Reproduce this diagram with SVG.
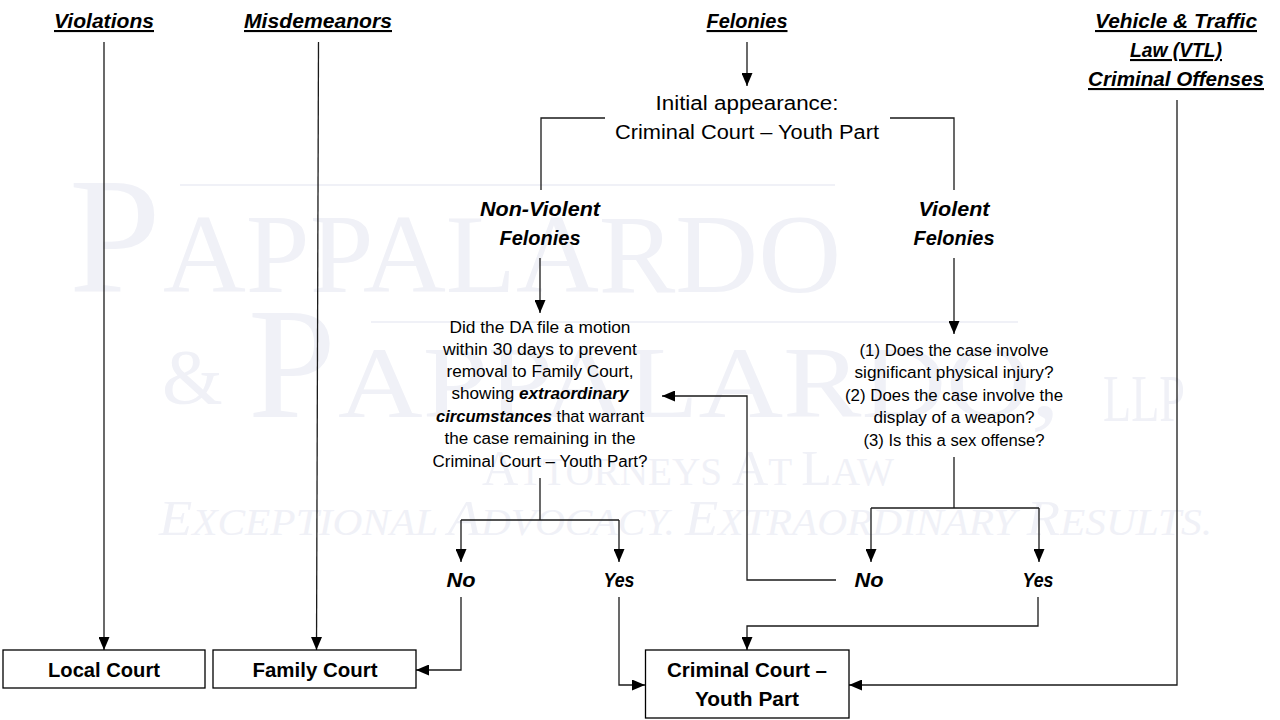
<svg xmlns="http://www.w3.org/2000/svg" width="1280" height="720" viewBox="0 0 1280 720">
<defs>
<marker id="arr" markerWidth="13" markerHeight="11" refX="13" refY="5.5" orient="auto" markerUnits="userSpaceOnUse"><path d="M0,0 L13,5.5 L0,11 z" fill="#000"/></marker>
<style>
.wm{font-family:"Liberation Serif","Times New Roman",serif;fill:#f0f1f7}
.hd{font-family:"Liberation Sans",Arial,sans-serif;font-weight:bold;font-style:italic;font-size:21px;fill:#000;text-anchor:middle}
.ul{text-decoration:underline}
.tx{font-family:"Liberation Sans",Arial,sans-serif;font-size:16px;fill:#000;text-anchor:middle}
.tl{font-family:"Liberation Sans",Arial,sans-serif;font-size:20px;fill:#000;text-anchor:middle}
.yn{font-family:"Liberation Sans",Arial,sans-serif;font-weight:bold;font-style:italic;font-size:20px;fill:#000;text-anchor:middle}
.bx{fill:#fff;stroke:#000;stroke-width:1.3}
.bt{font-family:"Liberation Sans",Arial,sans-serif;font-weight:bold;font-size:21px;fill:#000;text-anchor:middle}
.c{fill:none;stroke:#1a1a1a;stroke-width:1.3}
.ca{fill:none;stroke:#1a1a1a;stroke-width:1.3;marker-end:url(#arr)}
</style>
</defs>
<rect width="1280" height="720" fill="#fff"/>
<g id="watermark">
<line x1="180" y1="185" x2="835" y2="185" stroke="#f0f1f7" stroke-width="2"/>
<line x1="371" y1="322" x2="1018" y2="322" stroke="#f0f1f7" stroke-width="2"/>
<text class="wm" x="69" y="292" font-size="165">P</text>
<text class="wm" x="163" y="292" font-size="113" textLength="678" lengthAdjust="spacingAndGlyphs">APPALARDO</text>
<text class="wm" x="162" y="403" font-size="78">&amp;</text>
<text class="wm" x="248" y="417" font-size="158">P</text>
<text class="wm" x="338" y="417" font-size="101" textLength="722" lengthAdjust="spacingAndGlyphs">APPALARDO,</text>
<text class="wm" x="1103" y="421" font-size="68" textLength="82" lengthAdjust="spacingAndGlyphs">LLP</text>
<text class="wm" x="482" y="485" textLength="412" lengthAdjust="spacingAndGlyphs"><tspan font-size="50">A</tspan><tspan font-size="39">TTORNEYS </tspan><tspan font-size="50">A</tspan><tspan font-size="39">T </tspan><tspan font-size="50">L</tspan><tspan font-size="39">AW</tspan></text>
<text class="wm" x="159" y="535" font-style="italic" textLength="1053" lengthAdjust="spacingAndGlyphs"><tspan font-size="50">E</tspan><tspan font-size="38">XCEPTIONAL </tspan><tspan font-size="50">A</tspan><tspan font-size="38">DVOCACY. </tspan><tspan font-size="50">E</tspan><tspan font-size="38">XTRAORDINARY </tspan><tspan font-size="50">R</tspan><tspan font-size="38">ESULTS.</tspan></text>
</g>
<g id="connectors">
<line class="ca" x1="104" y1="42" x2="104" y2="650"/>
<line class="ca" x1="318.5" y1="42" x2="316.5" y2="650"/>
<line class="ca" x1="747" y1="42" x2="747" y2="86"/>
<polyline class="c" points="605,118 541,118 541,190"/>
<polyline class="c" points="890,118 954,118 954,190"/>
<line class="ca" x1="540" y1="258" x2="540" y2="313"/>
<line class="ca" x1="954" y1="258" x2="954" y2="334"/>
<line class="c" x1="540" y1="478" x2="540" y2="520"/>
<line class="c" x1="461" y1="520" x2="619" y2="520"/>
<line class="ca" x1="461" y1="520" x2="461" y2="562"/>
<line class="ca" x1="619" y1="520" x2="619" y2="562"/>
<line class="c" x1="954" y1="457" x2="954" y2="508"/>
<line class="c" x1="871" y1="508" x2="1039" y2="508"/>
<line class="ca" x1="871" y1="508" x2="871" y2="562"/>
<line class="ca" x1="1039" y1="508" x2="1039" y2="562"/>
<polyline class="ca" points="836,580 747,580 747,396 662,396"/>
<polyline class="ca" points="461,597 461,670 416,670"/>
<polyline class="ca" points="619,597 619,685 645,685"/>
<polyline class="ca" points="1038,597 1038,626 747,626 747,650"/>
<polyline class="ca" points="1177,100 1177,685 849,685"/>
</g>
<g id="violations"><text class="hd ul" x="104" y="28" textLength="100" lengthAdjust="spacingAndGlyphs">Violations</text></g>
<g id="misdemeanors"><text class="hd ul" x="318" y="28" textLength="148" lengthAdjust="spacingAndGlyphs">Misdemeanors</text></g>
<g id="felonies"><text class="hd ul" x="747" y="28" textLength="81" lengthAdjust="spacingAndGlyphs">Felonies</text></g>
<g id="vtl">
<text class="hd ul" x="1176" y="28" textLength="162" lengthAdjust="spacingAndGlyphs">Vehicle &amp; Traffic</text>
<text class="hd ul" x="1176" y="57" textLength="92" lengthAdjust="spacingAndGlyphs">Law (VTL)</text>
<text class="hd ul" x="1176" y="86" textLength="176" lengthAdjust="spacingAndGlyphs">Criminal Offenses</text>
</g>
<g id="initial">
<text class="tl" x="747" y="110" textLength="183" lengthAdjust="spacingAndGlyphs">Initial appearance:</text>
<text class="tl" x="747" y="139" textLength="264" lengthAdjust="spacingAndGlyphs">Criminal Court – Youth Part</text>
</g>
<g id="nonviolent">
<text class="hd" x="540" y="216" textLength="120" lengthAdjust="spacingAndGlyphs">Non-Violent</text>
<text class="hd" x="540" y="245" textLength="81" lengthAdjust="spacingAndGlyphs">Felonies</text>
</g>
<g id="violent">
<text class="hd" x="954" y="216" textLength="71" lengthAdjust="spacingAndGlyphs">Violent</text>
<text class="hd" x="954" y="245" textLength="81" lengthAdjust="spacingAndGlyphs">Felonies</text>
</g>
<g id="da-question">
<text class="tx" x="540" y="333" textLength="181" lengthAdjust="spacingAndGlyphs">Did the DA file a motion</text>
<text class="tx" x="540" y="355" textLength="194" lengthAdjust="spacingAndGlyphs">within 30 days to prevent</text>
<text class="tx" x="540" y="377" textLength="187" lengthAdjust="spacingAndGlyphs">removal to Family Court,</text>
<text class="tx" x="540" y="399" textLength="177" lengthAdjust="spacingAndGlyphs">showing <tspan font-weight="bold" font-style="italic">extraordinary</tspan></text>
<text class="tx" x="540" y="422" textLength="208" lengthAdjust="spacingAndGlyphs"><tspan font-weight="bold" font-style="italic">circumstances</tspan> that warrant</text>
<text class="tx" x="540" y="444" textLength="191" lengthAdjust="spacingAndGlyphs">the case remaining in the</text>
<text class="tx" x="540" y="467" textLength="215" lengthAdjust="spacingAndGlyphs">Criminal Court – Youth Part?</text>
</g>
<g id="violent-question">
<text class="tx" x="954" y="356" textLength="189" lengthAdjust="spacingAndGlyphs">(1) Does the case involve</text>
<text class="tx" x="954" y="378" textLength="199" lengthAdjust="spacingAndGlyphs">significant physical injury?</text>
<text class="tx" x="954" y="401" textLength="218" lengthAdjust="spacingAndGlyphs">(2) Does the case involve the</text>
<text class="tx" x="954" y="423" textLength="161" lengthAdjust="spacingAndGlyphs">display of a weapon?</text>
<text class="tx" x="954" y="446" textLength="181" lengthAdjust="spacingAndGlyphs">(3) Is this a sex offense?</text>
</g>
<g id="nv-no"><text class="yn" x="461" y="587" textLength="29" lengthAdjust="spacingAndGlyphs">No</text></g>
<g id="nv-yes"><text class="yn" x="619" y="587" textLength="31" lengthAdjust="spacingAndGlyphs">Yes</text></g>
<g id="v-no"><text class="yn" x="869" y="587" textLength="29" lengthAdjust="spacingAndGlyphs">No</text></g>
<g id="v-yes"><text class="yn" x="1038" y="587" textLength="31" lengthAdjust="spacingAndGlyphs">Yes</text></g>
<g id="local-court">
<rect class="bx" x="3" y="650" width="202" height="38"/>
<text class="bt" x="104" y="677" textLength="112" lengthAdjust="spacingAndGlyphs">Local Court</text>
</g>
<g id="family-court">
<rect class="bx" x="213" y="650" width="203" height="38"/>
<text class="bt" x="315" y="677" textLength="125" lengthAdjust="spacingAndGlyphs">Family Court</text>
</g>
<g id="criminal-court">
<rect class="bx" x="645.5" y="650" width="203.5" height="68"/>
<text class="bt" x="747" y="677" textLength="160" lengthAdjust="spacingAndGlyphs">Criminal Court –</text>
<text class="bt" x="747" y="706" textLength="104" lengthAdjust="spacingAndGlyphs">Youth Part</text>
</g>
</svg>
